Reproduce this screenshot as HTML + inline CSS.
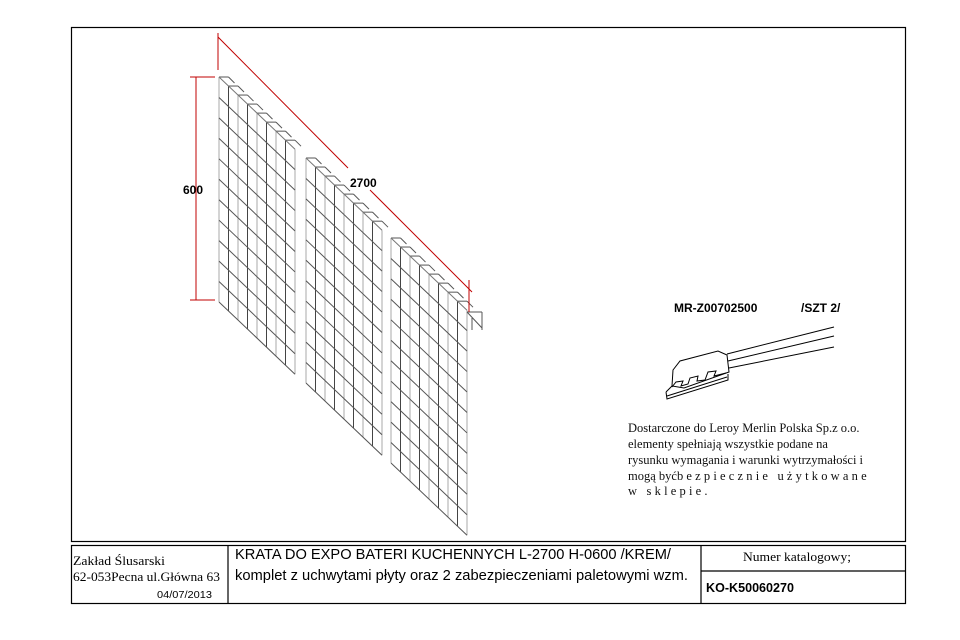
<!DOCTYPE html>
<html><head><meta charset="utf-8">
<style>
html,body{margin:0;padding:0;background:#fff;}
#wrap{position:relative;width:960px;height:640px;overflow:hidden;background:#fff;}
svg{position:absolute;left:0;top:0;}
</style></head>
<body>
<div id="wrap">
<svg id="svg" width="960" height="640" viewBox="0 0 960 640" xmlns="http://www.w3.org/2000/svg">
  <rect x="71.5" y="27.5" width="834" height="514" fill="none" stroke="#000" stroke-width="1.2"/>
  <g id="grids"></g>
  <g stroke="#c00000" stroke-width="1" fill="none">
    <line x1="196" y1="77" x2="196" y2="300"/>
    <line x1="190" y1="77" x2="215" y2="77"/>
    <line x1="190" y1="300" x2="215" y2="300"/>
    <line x1="218" y1="33" x2="218" y2="70"/>
    <line x1="469" y1="280" x2="469" y2="312"/>
    <line x1="218" y1="37" x2="348" y2="168"/>
    <line x1="370" y1="190" x2="472" y2="292"/>
  </g>
  <text x="183" y="194" font-family="Liberation Sans, sans-serif" font-size="12" font-weight="bold">600</text>
  <text x="350" y="187" font-family="Liberation Sans, sans-serif" font-size="12" font-weight="bold">2700</text>

  <g>
    <text x="674" y="312" font-family="Liberation Sans, sans-serif" font-size="12" font-weight="bold">MR-Z00702500</text>
    <text x="801" y="312" font-family="Liberation Sans, sans-serif" font-size="12" font-weight="bold">/SZT 2/</text>
    <g fill="none" stroke="#000" stroke-width="1">
      <path d="M672 386 L673 370 L680 361 L718 351 L727 355 L729 372 L684 388 Z"/>
      <path d="M666 392 L672 386 M666 392 L667 399 L728 380 L728 374"/>
      <path d="M667 396 L727 377"/>
      <path d="M672 387 L676 382 L683 381 L681 386 L688 384 L690 378 L698 376 L697 381 L705 380 L708 372 L716 371 L714 376 L726 373"/>
      <line x1="727" y1="354" x2="834" y2="327"/>
      <line x1="728" y1="361" x2="834" y2="336"/>
      <line x1="729" y1="368" x2="834" y2="347"/>
    </g>
  </g>
  <g font-family="Liberation Serif, serif" font-size="12.5" fill="#111">
    <text x="628" y="432">Dostarczone do Leroy Merlin Polska Sp.z o.o.</text>
    <text x="628" y="448">elementy spełniają wszystkie podane na</text>
    <text x="628" y="464">rysunku wymagania i warunki wytrzymałości i</text>
    <text x="628" y="480">mogą być<tspan letter-spacing="3.2">bezpiecznie użytkowane</tspan></text>
    <text x="628" y="495" letter-spacing="3.2">w sklepie.</text>
  </g>

  <g fill="none" stroke="#000" stroke-width="1.2">
    <rect x="71.5" y="545.5" width="834" height="58"/>
    <line x1="228" y1="545" x2="228" y2="604"/>
    <line x1="701" y1="545" x2="701" y2="604"/>
    <line x1="701" y1="571" x2="906" y2="571"/>
  </g>
  <g font-family="Liberation Serif, serif" font-size="13" fill="#000">
    <text x="73" y="565" textLength="92" lengthAdjust="spacingAndGlyphs">Zakład Ślusarski</text>
    <text x="73" y="581" textLength="147" lengthAdjust="spacingAndGlyphs">62-053Pecna ul.Główna 63</text>
    <text x="157" y="598" font-family="Liberation Sans, sans-serif" font-size="10.5" textLength="55" lengthAdjust="spacingAndGlyphs">04/07/2013</text>
    <text x="743" y="561" font-size="12.5" textLength="108" lengthAdjust="spacingAndGlyphs">Numer katalogowy;</text>
  </g>
  <g font-family="Liberation Sans, sans-serif" font-size="15" fill="#000">
    <text x="235" y="559" textLength="436" lengthAdjust="spacingAndGlyphs">KRATA DO EXPO BATERI KUCHENNYCH L-2700 H-0600 /KREM/</text>
    <text x="235" y="580" textLength="453" lengthAdjust="spacingAndGlyphs">komplet z uchwytami płyty oraz 2 zabezpieczeniami paletowymi wzm.</text>
    <text x="706" y="592" font-weight="bold" font-size="13" textLength="88" lengthAdjust="spacingAndGlyphs">KO-K50060270</text>
  </g>
</svg>
</div>
<script>
// panel geometry data
const panelLeftX = [219, 306, 391];
const panelTopY = [77, 158, 238];
const columnCount = 8;
const rowCount = 11;
const panelWidth = 76;
const panelHeight = 225;
const slope = 0.95;

const NS = 'http://www.w3.org/2000/svg';
const g = document.getElementById('grids');
function line(x1,y1,x2,y2,c,name){
  const l=document.createElementNS(NS,'line');
  l.setAttribute('x1',x1);l.setAttribute('y1',y1);l.setAttribute('x2',x2);l.setAttribute('y2',y2);
  l.setAttribute('stroke',c);l.setAttribute('stroke-width','1');
  
  
  g.appendChild(l);
}
panelLeftX.forEach((x0,p)=>{
  const y0=panelTopY[p];
  const dx=panelWidth/columnCount;
  const rh=panelHeight/rowCount;
  for(let c=0;c<=columnCount;c++){
    const x=x0+c*dx, yt=y0+c*dx*slope;
    line(x,yt,x,yt+panelHeight,c%2?'#444':'#aaa','grid-column-wire');
    if(c<columnCount){
      line(x,yt,x+dx,yt,'#555','grid-top-flange');
      line(x+dx,yt,x+dx+6,yt+6,'#555','grid-top-flange');
    }
  }
  for(let r=1;r<=rowCount;r++){
    const y=y0+r*rh;
    line(x0,y,x0+panelWidth,y+panelWidth*slope,'#555','grid-row-wire');
  }
  line(x0,y0,x0+panelWidth,y0+panelWidth*slope,'#777','grid-top-edge');
});
// end flange
line(467,312,482,312,'#555','end-flange');
line(467,312,482,328,'#555','end-flange');
line(482,312,482,330,'#555','end-flange');
line(472,318,472,330,'#555','end-flange');
</script>
</body></html>
